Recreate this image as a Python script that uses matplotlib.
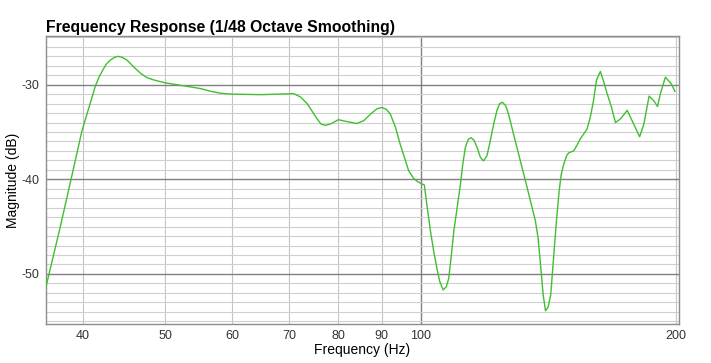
import matplotlib.pyplot as plt
from matplotlib.ticker import FixedLocator, MultipleLocator, NullLocator

plt.rcParams['font.family'] = ['Liberation Sans', 'DejaVu Sans']
plt.rcParams['axes.unicode_minus'] = False

# frequency (Hz) / magnitude (dB)
freq = [36.2, 37.6, 38.7, 39.9, 40.8, 41.4, 41.8, 42.2, 42.6, 43.1, 43.6, 44.0, 44.5,
        45.1, 45.9, 46.8, 47.6, 48.5, 50.0, 52.2, 55.0, 56.6, 58.1, 60.0, 65.0,
        69.9, 70.8, 72.2, 73.5, 74.5, 75.5, 76.3, 77.2, 78.3, 80.0, 81.9, 84.1,
        85.7, 87.3, 88.8, 90.0, 91.1, 92.1, 93.4, 94.6, 95.7, 96.8, 98.1, 99.0,
        100.4, 101.0, 101.7, 102.7, 103.6, 104.5, 105.3, 106.3, 107.2, 107.9, 108.6,
        109.4, 110.4, 111.4, 112.1, 112.9, 113.8, 114.7, 115.6, 116.5, 117.6, 118.6,
        119.7, 120.8, 121.9, 123.0, 123.9, 124.8, 125.9, 126.9, 129.8, 133.5, 136.5,
        137.5, 138.4, 139.4, 140.3, 141.3, 142.3, 143.6, 144.6, 145.6, 146.4, 147.4,
        148.6, 149.4, 151.4, 152.7, 154.1, 157.0, 158.4, 159.8, 161.1, 162.8, 164.3,
        165.9, 167.8, 169.6, 172.0, 175.1, 177.4, 181.1, 183.2, 185.8, 188.2, 190.1,
        191.5, 194.2, 197.3, 199.3]
mag = [-51.35, -45.15, -40.2, -34.9, -32.0, -30.1, -29.2, -28.5, -27.85, -27.4, -27.1, -27.0, -27.1,
       -27.4, -28.1, -28.8, -29.25, -29.5, -29.8, -30.07, -30.4, -30.7, -30.9, -31.0, -31.05,
       -30.96, -30.93, -31.3, -32.0, -32.8, -33.6, -34.15, -34.3, -34.15, -33.7, -33.9, -34.1,
       -33.8, -33.1, -32.55, -32.4, -32.6, -33.1, -34.5, -36.3, -37.7, -39.1, -39.9, -40.2,
       -40.5, -40.6, -42.7, -45.5, -47.6, -49.4, -50.8, -51.7, -51.35, -50.5, -48.3,
       -45.5, -43.0, -40.5, -38.4, -36.6, -35.75, -35.6, -35.9, -36.6, -37.7, -38.05,
       -37.5, -35.9, -34.15, -32.7, -32.0, -31.85, -32.2, -33.1, -36.6, -40.9, -44.4,
       -46.2, -49.0, -52.2, -53.9, -53.5, -52.2, -47.6, -44.1, -41.2, -39.5, -38.4,
       -37.5, -37.2, -37.0, -36.45, -35.75, -34.7, -33.45, -31.7, -29.5, -28.6, -29.7,
       -31.0, -32.4, -34.0, -33.6, -32.7, -33.8, -35.5, -34.15, -31.2, -31.7, -32.3,
       -31.0, -29.2, -29.9, -30.7]

xticks = [40, 50, 60, 70, 80, 90, 100, 200]
yticks = [-50, -40, -30]

fig = plt.figure(figsize=(7.11, 3.63), dpi=100)
ax = fig.add_axes([0.0647, 0.1074, 0.8903, 0.7934])

ax.plot(freq, mag, color='#3fbf2f', linewidth=1.0, zorder=3)

ax.set_xscale('log')
ax.set_xlim(36.2, 201.5)
ax.set_ylim(-55.3, -24.85)

ax.xaxis.set_major_locator(FixedLocator(xticks))
ax.xaxis.set_minor_locator(NullLocator())
ax.set_xticklabels([str(t) for t in xticks])
ax.yaxis.set_major_locator(FixedLocator(yticks))
ax.yaxis.set_minor_locator(MultipleLocator(1))

ax.grid(which='major', axis='y', color='#808080', linewidth=1.0)
ax.grid(which='minor', axis='y', color='#cfcfcf', linewidth=0.8)
ax.grid(which='major', axis='x', color='#c4c4c4', linewidth=0.8)
for t in ax.xaxis.get_major_ticks():
    if t.get_loc() == 100:
        t.gridline.set_color('#808080')
        t.gridline.set_linewidth(1.0)
ax.set_axisbelow(True)

ax.tick_params(which='both', length=0, labelsize=9, labelcolor='#333333')
ax.tick_params(axis='x', pad=4)
ax.tick_params(axis='y', pad=5)
for s in ax.spines.values():
    s.set_color('#8c8c8c')
    s.set_linewidth(1.0)

ax.set_xlabel('Frequency (Hz)', fontsize=10, labelpad=1)
ax.set_ylabel('Magnitude (dB)', fontsize=10)
ax.yaxis.set_label_coords(-0.041, 0.5)
ax.set_title('Frequency Response (1/48 Octave Smoothing)', loc='left',
             fontsize=11.3, fontweight='bold', pad=3)

fig.savefig('out.png', dpi=100)
